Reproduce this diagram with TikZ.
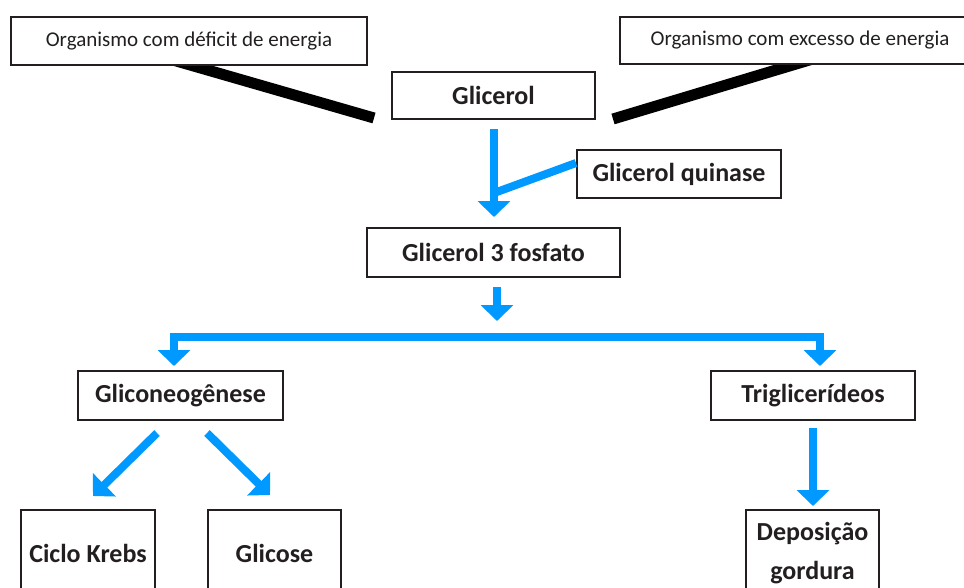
\documentclass[tikz,border=0pt]{standalone}
\usepackage{fontspec}
\setmainfont{Carlito}
\usetikzlibrary{arrows.meta,calc,backgrounds}
\definecolor{txtgray}{RGB}{35,31,32}
\definecolor{flowblue}{RGB}{0,153,255}
\tikzset{
  box/.style={draw=txtgray, line width=2pt, fill=white, text=txtgray, inner sep=0pt, align=center, font=\bfseries\fontsize{26}{32}\selectfont},
  smallbox/.style={box, font=\fontsize{21}{25}\selectfont},
  blackbar/.style={line width=11pt, black},
  blueline/.style={line width=8pt, flowblue},
  bluearrow/.style={blueline, line join=miter, -{Triangle[width=32pt,length=16pt]}}
}
\begin{document}
\begin{tikzpicture}[x=1pt,y=-1pt]
\useasboundingbox (0,0) rectangle (964,587);
\clip (0,0) rectangle (964,587);
% boxes
\node[smallbox, minimum width=356pt, minimum height=48pt] (org1) at (189,41) {Organismo com déficit de energia};
\node[smallbox, minimum width=360pt, minimum height=47pt] (org2) at (800,40.5) {Organismo com excesso de energia};
\node[box, minimum width=203pt, minimum height=47pt] (glic) at (493.5,95.5) {Glicerol};
\node[box, minimum width=204pt, minimum height=48pt] (quin) at (679,174) {Glicerol quinase};
\node[box, minimum width=253pt, minimum height=49pt] (g3f) at (493.5,252.5) {Glicerol 3 fosfato};
\node[box, minimum width=205pt, minimum height=49pt] (gli) at (180.5,395.5) {Gliconeogênese};
\node[box, minimum width=204pt, minimum height=49pt] (tri) at (813,395.5) {Triglicerídeos};
\node[box, minimum width=134pt, minimum height=86pt] (krebs) at (88,553) {Ciclo Krebs};
\node[box, minimum width=133pt, minimum height=86pt] (glc) at (274.5,553) {Glicose};
\node[box, minimum width=133pt, minimum height=86pt, font=\bfseries\fontsize{26}{39}\selectfont] (dep) at (812.5,553) {Deposição\\gordura};
% coordinates
\coordinate (lend) at (374,118);
\coordinate (rend) at (613,119);
\coordinate (join) at (494,193);
\coordinate (bar) at (497,337);
\begin{scope}[on background layer]
\fill[white] (0,0) rectangle (964,587);
\draw[blackbar] ($(org1.south)+(-29,-9.7)$) -- (lend);
\draw[blackbar] ($(org2.south)+(26,-10)$) -- (rend);
\end{scope}
% blue connectors
\draw[bluearrow] ($(glic.south)+(0.5,9)$) -- ($(g3f.north)+(0.5,-10)$);
\draw[blueline] ($(quin.west)+(0,-11)$) -- (join);
\draw[bluearrow] ($(g3f.south)+(3.5,9)$) -- ($(g3f.south)+(3.5,43)$);
\draw[bluearrow] (bar) -| ($(gli.north)+(-6.5,-4)$);
\draw[bluearrow] (bar) -| ($(tri.north)+(7,-4)$);
\draw[bluearrow] ($(tri.south)+(0,7)$) -- ($(dep.north)+(0.5,-3)$);
\draw[bluearrow] ($(gli.south)+(-23.5,12)$) -- ($(krebs.north)+(5,-13)$);
\draw[bluearrow] ($(gli.south)+(26.5,12)$) -- ($(glc.north)+(-4.5,-14)$);
\end{tikzpicture}
\end{document}
